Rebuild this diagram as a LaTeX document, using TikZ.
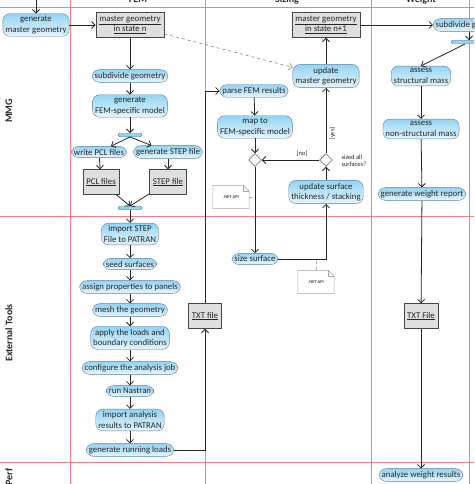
\documentclass[tikz,border=0pt]{standalone}
\usepackage{fontspec}
\setmainfont{Carlito}
\usetikzlibrary{shapes.geometric,arrows.meta,calc}

\definecolor{lanered}{HTML}{EE7F86}
\definecolor{acttop}{HTML}{93D4F5}
\definecolor{actbot}{HTML}{E6F5FD}
\definecolor{actline}{HTML}{5F7F96}
\definecolor{flow}{HTML}{262626}

\begin{document}
\begin{tikzpicture}[x=1pt, y=-1pt, >={Straight Barb[length=3.5pt,width=7pt]},
    act/.style={draw=actline, rounded corners=7pt, top color=acttop, bottom color=actbot, font=\fontsize{8.8}{10.5}\selectfont, align=center, inner xsep=2.5pt, inner ysep=2.5pt, text=black!85},
    obj/.style={draw=gray!55!black, fill=gray!25, font=\fontsize{8.8}{10.5}\selectfont, align=center, inner xsep=3.5pt, minimum height=25pt, text=black!85},
    syncbar/.style={draw=actline, fill=acttop, rounded corners=1.5pt, minimum width=24pt, minimum height=3.5pt, inner sep=0pt},
    choice/.style={draw=flow, fill=white, diamond, minimum size=13pt, inner sep=0pt},
    flowline/.style={draw=flow, line width=0.8pt},
    lane/.style={draw=lanered, line width=0.9pt},
    lanelabel/.style={font=\fontsize{10}{12}\selectfont\bfseries, text=black!85},
    guard/.style={font=\fontsize{6.5}{7.5}\selectfont, text=black!85},
    notebox/.style={font=\fontsize{4.5}{5}\selectfont, minimum width=36pt, minimum height=23pt, inner sep=0pt},
    noteline/.style={draw=gray!70, line width=0.5pt}]
    \path[use as bounding box] (0,0) rectangle (474,484);
    \clip (0,0) rectangle (474,484);
    % Swimlanes
    \draw[lane] (0,7) -- (474,7);
    \draw[lane] (0,216) -- (474,216);
    \draw[lane] (0,462) -- (474,462);
    \draw[lane] (70,0) -- (70,484);
    \draw[lane] (205,0) -- (205,484);
    \draw[lane] (371,0) -- (371,484);
    \draw[lane] (469,0) -- (469,484);
    \node[lanelabel, anchor=base] (hfem) at (138,3) {FEM};
    \node[lanelabel, anchor=base] (hsiz) at (287,3) {Sizing};
    \node[lanelabel, anchor=base] (hwgt) at (421,3) {Weight};
    \node[lanelabel, rotate=90] (lmmg) at (9,111) {MMG};
    \node[lanelabel, rotate=90] (lext) at (9,333) {External Tools};
    \node[lanelabel, rotate=90, anchor=east] (lperf) at (9,465) {Perf};
    % MMG
    \coordinate (gmgin) at (36,-5);
    \node[act] (gmg) at (36,25) {generate\\master geometry};
    % FEM
    \node[obj] (mgn) at (130,25) {\underline{master geometry}\\\underline{in state n}};
    \node[act] (subf) at (130,76) {subdivide geometry};
    \node[act] (genfem) at (130,106) {generate\\FEM-specific model};
    \node[syncbar] (fork) at (130,135) {};
    \node[act] (pcl) at (99,152) {write PCL files};
    \node[act] (step) at (168,152) {generate STEP file};
    \node[obj] (pclf) at (101,182) {\underline{PCL files}};
    \node[obj] (stepf) at (168,182) {\underline{STEP file}};
    \node[syncbar] (join) at (130,208) {};
    \node[act] (imp) at (130,234) {import STEP\\File to PATRAN};
    \node[act] (seed) at (130,264) {seed surfaces};
    \node[act] (assign) at (130,287) {assign properties to panels};
    \node[act] (mesh) at (130,310) {mesh the geometry};
    \node[act] (loads) at (130,338) {apply the loads and\\boundary conditions};
    \node[act] (conf) at (130,368) {configure the analysis job};
    \node[act] (nas) at (130,391) {run Nastran};
    \node[act] (impres) at (130,420) {import analysis\\results to PATRAN};
    \node[act] (grl) at (130,450) {generate running loads};
    \node[obj] (txtf) at (205,316) {\underline{TXT file}};
    % Sizing
    \node[act] (parse) at (254,91) {parse FEM results};
    \node[act] (map) at (255,127) {map to\\FEM-specific model};
    \node[choice] (merge) at (255,160) {};
    \node[choice] (sized) at (326,160) {};
    \node[guard, anchor=north west, align=left] (sizedq) at (338,151) {sized all\\surfaces?};
    \node[act] (ust) at (326,192) {update surface\\thickness / stacking};
    \node[act] (size) at (255,259) {size surface};
    \node[act] (umg) at (326,76) {update\\master geometry};
    \node[obj] (mgn1) at (326,25) {\underline{master geometry}\\\underline{in state n+1}};
    \node[notebox] (apil) at (231,197) {.NET API};
    \node[notebox] (apir) at (316,282) {.NET API};
    % Weight
    \node[act] (subw) at (471,25) {subdivide geometry};
    \node[syncbar, minimum width=36pt] (barw) at (469,42) {};
    \node[act] (asm) at (421,76) {assess\\structural mass};
    \node[act] (ansm) at (421,129) {assess\\non-structural mass};
    \node[act] (gwr) at (422,194) {generate weight report};
    \node[obj] (txtw) at (421,316) {\underline{TXT File}};
    \node[act] (awr) at (421,475) {analyze weight results};
    % Notes
    \draw[noteline, fill=white] (apil.south west) -- (apil.north west) -- ([xshift=-6pt]apil.north east) -- ([yshift=-6pt]apil.north east) -- (apil.south east) -- cycle;
    \draw[noteline] ([xshift=-6pt]apil.north east) -- ([xshift=-6pt,yshift=-6pt]apil.north east) -- ([yshift=-6pt]apil.north east);
    \draw[noteline, fill=white] (apir.south west) -- (apir.north west) -- ([xshift=-6pt]apir.north east) -- ([yshift=-6pt]apir.north east) -- (apir.south east) -- cycle;
    \draw[noteline] ([xshift=-6pt]apir.north east) -- ([xshift=-6pt,yshift=-6pt]apir.north east) -- ([yshift=-6pt]apir.north east);
    \node[notebox] at (apil) {.NET API};
    \node[notebox] at (apir) {.NET API};
    % Flows
    \draw[flowline, ->] (gmgin) -- (gmg);
    \draw[flowline, ->] (gmg) -- (mgn);
    \draw[flowline, ->] (mgn) -- (subf);
    \draw[flowline, ->] (subf) -- (genfem);
    \draw[flowline, ->] (genfem) -- (fork);
    \draw[flowline, ->] (fork.south) -- (pcl);
    \draw[flowline, ->] (fork.south) -- (step);
    \draw[flowline, ->] (pcl) -- (pclf);
    \draw[flowline, ->] (step) -- (stepf);
    \draw[flowline, ->] (pclf) -- (join.north);
    \draw[flowline, ->] (stepf) -- (join.north);
    \draw[flowline, ->] (join) -- (imp);
    \draw[flowline, ->] (imp) -- (seed);
    \draw[flowline, ->] (seed) -- (assign);
    \draw[flowline, ->] (assign) -- (mesh);
    \draw[flowline, ->] (mesh) -- (loads);
    \draw[flowline, ->] (loads) -- (conf);
    \draw[flowline, ->] (conf) -- (nas);
    \draw[flowline, ->] (nas) -- (impres);
    \draw[flowline, ->] (impres) -- (grl);
    \draw[flowline, ->] (grl) -| (txtf);
    \draw[flowline, ->] (txtf) |- (parse);
    \draw[flowline, ->] (parse) -- (map);
    \draw[flowline, ->] (map) -- (merge);
    \draw[flowline, ->] (merge) -- (size);
    \draw[flowline, ->] (size) -| (ust);
    \draw[flowline, ->] (ust) -- (sized);
    \draw[flowline, ->] (sized) -- node[guard, pos=0.3, above] {[no]} (merge);
    \draw[flowline, ->] (sized) -- node[guard, pos=0.3, rotate=90, anchor=north] {[yes]} (umg);
    \draw[flowline, ->] (umg) -- (mgn1);
    \draw[gray, dashed, line width=0.6pt, ->] (mgn) -- (umg);
    \draw[flowline, ->] (mgn1) -- (subw);
    \draw[flowline, ->] (subw.south -| barw) -- (barw);
    \draw[flowline, ->] (barw) -- (asm.north);
    \draw[flowline, ->] (asm) -- (ansm);
    \draw[flowline, ->] (ansm) -- (gwr);
    \draw[flowline, ->] (gwr) -- (txtw);
    \draw[flowline, ->] (txtw) -- (awr);
    \draw[noteline, dashed] (apil) -- (apil -| merge);
    \draw[noteline, dashed] (apir) -- (apir |- size);
\end{tikzpicture}
\end{document}
